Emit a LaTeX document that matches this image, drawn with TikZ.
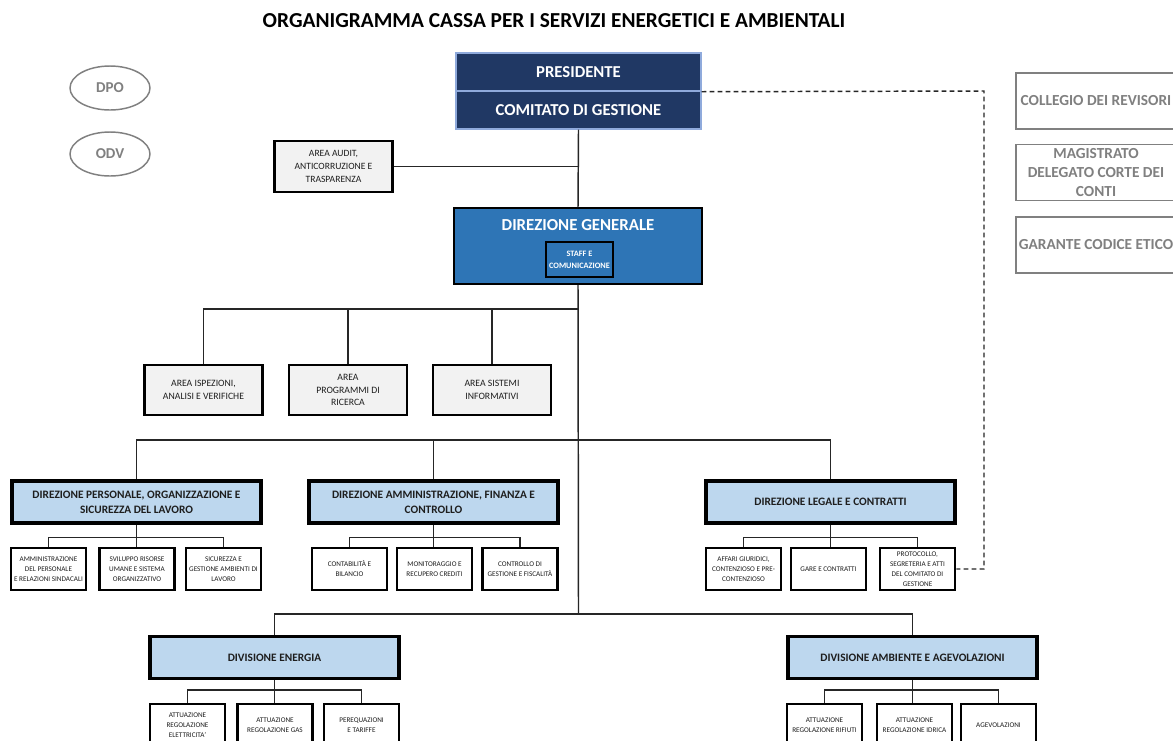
\documentclass[tikz,border=0pt]{standalone}
\usepackage{fontspec}
\setmainfont{Carlito}
\usetikzlibrary{shapes.geometric}
\begin{document}
\begin{tikzpicture}[x=0.75pt,y=-0.75pt,
  wire/.style={draw=lineColor,line width=1.1pt},
  dashline/.style={draw=lineColor,line width=1.1pt,dash pattern=on 3.5pt off 2.5pt},
  topbox/.style={fill=navyColor,draw=edgeColor,line width=1.1pt,text=white,inner sep=0pt,
    minimum width=183.75pt,minimum height=28.5pt,font=\bfseries\fontsize{12.5}{15}\selectfont},
  dgbox/.style={fill=dgColor,draw=black,line width=1.5pt,inner sep=0pt,minimum width=186pt,minimum height=57pt},
  staffbox/.style={fill=dgColor,draw=black,line width=1.5pt,inner sep=0pt,text=white,align=center,
    minimum width=50.25pt,minimum height=26.25pt,font=\bfseries\fontsize{6.2}{9}\selectfont},
  oval/.style={ellipse,draw=grayColor,line width=1.1pt,inner sep=0pt,minimum width=60pt,minimum height=33pt,
    text=grayColor,font=\bfseries\fontsize{11.3}{13}\selectfont},
  sidebox/.style={draw=grayColor,line width=1.2pt,inner sep=0pt,align=center,text=grayColor,
    minimum width=120pt,minimum height=42pt,font=\bfseries\fontsize{11.5}{14.25}\selectfont},
  areabox/.style={fill=areaColor,draw=black,line width=2pt,inner sep=0pt,align=center,text=textColor,
    minimum width=88.5pt,minimum height=37.5pt,font=\fontsize{7.3}{9.6}\selectfont},
  dirbox/.style={fill=dirColor,draw=black,line width=2.4pt,inner sep=0pt,align=center,text=textColor,
    minimum width=186.75pt,minimum height=31.5pt,font=\bfseries\fontsize{8.5}{11.25}\selectfont},
  subbox/.style={fill=white,draw=black,line width=2pt,inner sep=0pt,align=center,text=textColor,
    minimum width=56.25pt,minimum height=31.5pt,font=\fontsize{5.4}{7.5}\selectfont}]
\definecolor{navyColor}{RGB}{32,56,100}
\definecolor{edgeColor}{RGB}{143,170,220}
\definecolor{dgColor}{RGB}{46,117,182}
\definecolor{dirColor}{RGB}{189,215,238}
\definecolor{areaColor}{RGB}{242,242,242}
\definecolor{grayColor}{RGB}{128,128,128}
\definecolor{lineColor}{RGB}{38,38,38}
\definecolor{textColor}{RGB}{30,30,30}
\useasboundingbox (0,0) rectangle (1173,740);
\clip (0,0) rectangle (1173,740);
\fill[white] (0,0) rectangle (1173,740);

\node[font=\bfseries\fontsize{16}{19}\selectfont] (title) at (554,21) {ORGANIGRAMMA CASSA PER I SERVIZI ENERGETICI E AMBIENTALI};

% vertici
\node[topbox] (pres) at (578.5,72) {PRESIDENTE};
\node[topbox] (comitato) at (578.5,110) {COMITATO DI GESTIONE};
\node[oval] (dpo) at (110,88) {DPO};
\node[oval] (odv) at (110,154) {ODV};
\node[sidebox] (collegio) at (1096,101) {COLLEGIO DEI REVISORI};
\node[sidebox] (magistrato) at (1096,172.5) {MAGISTRATO\\DELEGATO CORTE DEI\\CONTI};
\node[sidebox] (garante) at (1096,245) {GARANTE CODICE ETICO};
\node[areabox,minimum height=38.25pt,font=\fontsize{7.2}{10}\selectfont] (audit) at (333.5,166.5) {AREA AUDIT,\\ANTICORRUZIONE E\\TRASPARENZA};

% direzione generale
\node[dgbox] (dg) at (578,246) {};
\node[text=white,font=\bfseries\fontsize{12.6}{15}\selectfont] (dglabel) at (578,225) {DIREZIONE GENERALE};
\node[staffbox] (staff) at (579.5,259.5) {STAFF E\\COMUNICAZIONE};

% aree
\node[areabox] (aisp) at (203.5,390) {AREA ISPEZIONI,\\ANALISI E VERIFICHE};
\node[areabox] (aprog) at (348,390) {AREA\\PROGRAMMI DI\\RICERCA};
\node[areabox] (asis) at (492,390) {AREA SISTEMI\\INFORMATIVI};

% direzioni
\node[dirbox] (pers) at (136.5,502) {DIREZIONE PERSONALE, ORGANIZZAZIONE E\\SICUREZZA DEL LAVORO};
\node[dirbox] (amm) at (433.5,502) {DIREZIONE AMMINISTRAZIONE, FINANZA E\\CONTROLLO};
\node[dirbox] (leg) at (830.5,502) {DIREZIONE LEGALE E CONTRATTI};

\node[subbox] (ps1) at (48.5,569) {AMMINISTRAZIONE\\DEL PERSONALE\\E RELAZIONI SINDACALI};
\node[subbox] (ps2) at (137,569) {SVILUPPO  RISORSE\\UMANE E SISTEMA\\ORGANIZZATIVO};
\node[subbox] (ps3) at (223.5,569) {SICUREZZA E\\GESTIONE AMBIENTI DI\\LAVORO};
\node[subbox] (as1) at (349.5,569) {CONTABILIT\`A E\\BILANCIO};
\node[subbox] (as2) at (434.5,569) {MONITORAGGIO E\\RECUPERO CREDITI};
\node[subbox] (as3) at (520,569) {CONTROLLO DI\\GESTIONE E FISCALIT\`A};
\node[subbox] (ls1) at (743.5,569) {AFFARI GIURIDICI,\\CONTENZIOSO E PRE-\\CONTENZIOSO};
\node[subbox] (ls2) at (828.5,569) {GARE E CONTRATTI};
\node[subbox] (ls3) at (917.5,569) {PROTOCOLLO,\\SEGRETERIA  E ATTI\\DEL COMITATO DI\\GESTIONE};

% divisioni
\node[dirbox] (en) at (274.5,657.5) {DIVISIONE ENERGIA};
\node[dirbox] (amb) at (912.5,657.5) {DIVISIONE AMBIENTE E AGEVOLAZIONI};

\node[subbox] (es1) at (187.5,725) {ATTUAZIONE\\REGOLAZIONE\\ELETTRICITA'};
\node[subbox] (es2) at (275,725) {ATTUAZIONE\\REGOLAZIONE GAS};
\node[subbox] (es3) at (361.5,725) {PEREQUAZIONI\\E TARIFFE};
\node[subbox] (bs1) at (824.5,725) {ATTUAZIONE\\REGOLAZIONE RIFIUTI};
\node[subbox] (bs2) at (914.5,725) {ATTUAZIONE\\REGOLAZIONE IDRICA};
\node[subbox] (bs3) at (998.5,725) {AGEVOLAZIONI};

% collegamenti
\coordinate (areabar) at (578.5,309);
\coordinate (dirbar) at (578.5,440);
\coordinate (divbar) at (578.5,614);
\coordinate (dashcorner) at (984,91);

\draw[wire] (comitato.south) -- (dg.north);
\draw[wire] (audit.east) -- (audit.east -| comitato.south);
\draw[wire] (dg.south) -- (divbar);
\draw[wire] (aisp.north) |- (areabar);
\draw[wire] (aprog.north) -- (aprog.north |- areabar);
\draw[wire] (asis.north) -- (asis.north |- areabar);
\draw[wire] (pers.north) |- (dirbar -| leg.north) -- (leg.north);
\draw[wire] (amm.north) -- (amm.north |- dirbar);
\draw[wire] (en.north) |- (divbar -| amb.north) -- (amb.north);

\path (pers.south) ++(0,13) coordinate (persbar);
\draw[wire] (pers.south) -- (persbar);
\draw[wire] (ps1.north) |- (persbar) -| (ps3.north);
\draw[wire] (persbar) -- (persbar |- ps2.north);
\path (amm.south) ++(0,13) coordinate (ammbar);
\draw[wire] (amm.south) -- (ammbar);
\draw[wire] (as1.north) |- (ammbar) -| (as3.north);
\draw[wire] (ammbar) -- (ammbar |- as2.north);
\path (leg.south) ++(0,13) coordinate (legbar);
\draw[wire] (leg.south) -- (legbar);
\draw[wire] (ls1.north) |- (legbar) -| (ls3.north);
\draw[wire] (legbar) -- (legbar |- ls2.north);
\path (en.south) ++(0,10) coordinate (enbar);
\draw[wire] (en.south) -- (enbar);
\draw[wire] (es1.north) |- (enbar) -| (es3.north);
\draw[wire] (enbar) -- (enbar |- es2.north);
\path (amb.south) ++(0,10) coordinate (ambbar);
\draw[wire] (amb.south) -- (ambbar);
\draw[wire] (bs1.north) |- (ambbar) -| (bs3.north);
\draw[wire] (ambbar) -- (ambbar |- bs2.north);

\draw[dashline] (pres.south east) -- (dashcorner) |- (ls3.east);
\end{tikzpicture}
\end{document}
